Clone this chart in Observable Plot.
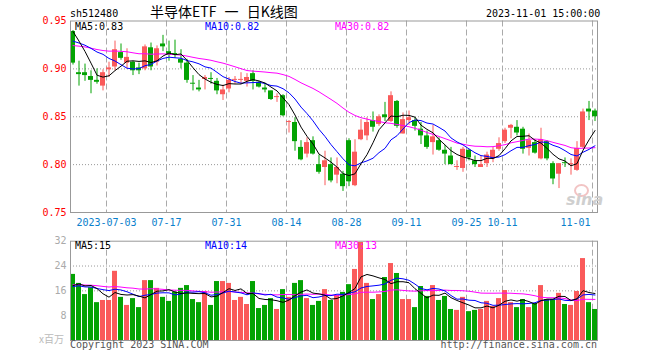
<!DOCTYPE html>
<html><head><meta charset="utf-8">
<script src="https://cdn.jsdelivr.net/npm/d3@7"></script>
<script src="https://cdn.jsdelivr.net/npm/@observablehq/plot@0.6"></script>
<style>
body{margin:0;background:#fff}
#wrap{position:relative;width:660px;height:360px;overflow:hidden;font-family:"DejaVu Sans Mono",monospace;font-size:10px;color:#000}
.t{position:absolute;white-space:pre;line-height:10px}
.cjk{font-family:"Noto Sans CJK SC",sans-serif}
#price,#vol{position:absolute;left:0}
#price{top:0}
#vol{top:232px}
</style></head>
<body>
<div id="wrap">
  <div id="price"></div>
  <div id="vol"></div>
  <div class="t" style="left:70px;top:8.5px">sh512480</div>
  <div class="t cjk" style="left:150px;top:3.5px;font-size:14px;line-height:14px;word-spacing:5px">半导体ETF 一 日K线图</div>
  <div class="t" style="left:486px;top:8.5px">2023-11-01 15:00:00</div>
  <div class="t" style="left:75px;top:21.5px;color:#000">MA5:0.83</div>
  <div class="t" style="left:205px;top:21.5px;color:#00f">MA10:0.82</div>
  <div class="t" style="left:335px;top:21.5px;color:#f0f">MA30:0.82</div>
  <div class="t" style="left:75px;top:241px;color:#000">MA5:15</div>
  <div class="t" style="left:205px;top:241px;color:#00f">MA10:14</div>
  <div class="t" style="left:335px;top:241px;color:#f0f">MA30:13</div>
  <div class="t cjk" style="left:39px;top:334px;color:#bbb">x百万</div>
  <div class="t" style="left:70px;top:339.5px;color:#555">Copyright 2023 SINA.COM</div>
  <div class="t" style="right:63px;top:339.5px;color:#555">http://finance.sina.com.cn</div>
  <div style="position:absolute;left:574px;top:184px;width:11px;height:9px;border:2px solid #f2c4c4;border-radius:50%"></div>
  <div class="t" style="left:566px;top:193px;font:italic bold 16px 'DejaVu Sans',sans-serif;line-height:14px;color:#cfcfcf">sina</div>
</div>
<script>
// trading dates (2023), one per candle
const dates = ("06-21 06-26 06-27 06-28 06-29 06-30 " +
 "07-03 07-04 07-05 07-06 07-07 07-10 07-11 07-12 07-13 07-14 07-17 07-18 07-19 07-20 07-21 07-24 07-25 07-26 07-27 07-28 07-31 " +
 "08-01 08-02 08-03 08-04 08-07 08-08 08-09 08-10 08-11 08-14 08-15 08-16 08-17 08-18 08-21 08-22 08-23 08-24 08-25 08-28 08-29 08-30 08-31 " +
 "09-01 09-04 09-05 09-06 09-07 09-08 09-11 09-12 09-13 09-14 09-15 09-18 09-19 09-20 09-21 09-22 09-25 09-26 09-27 09-28 " +
 "10-09 10-10 10-11 10-12 10-13 10-16 10-17 10-18 10-19 10-20 10-23 10-24 10-25 10-26 10-27 10-30 10-31 11-01").split(" ");

const opens = [.939,.896,.896,.892,.888,.882,.899,.902,.917,.906,.907,.901,.900,.922,.907,.926,.918,.916,.910,.906,
 .885,.880,.889,.890,.887,.873,.879,.888,.888,.887,.895,.886,.880,.877,.870,.872,.844,.844,.818,.811,
 .825,.800,.797,.800,.789,.790,.825,.778,.826,.830,.846,.842,.852,.845,.866,.832,.846,.846,.837,.830,
 .823,.825,.815,.809,.797,.796,.815,.804,.797,.801,.806,.816,.824,.838,.839,.837,.817,.823,.806,.824,
 .801,.790,.802,.800,.794,.818,.858,.856];
const highs = [.940,.908,.905,.898,.900,.899,.907,.929,.926,.921,.908,.906,.925,.927,.924,.935,.929,.930,.920,.910,
 .893,.888,.893,.896,.890,.883,.891,.892,.896,.895,.898,.887,.885,.877,.874,.873,.846,.849,.825,.828,
 .829,.810,.814,.807,.807,.793,.827,.826,.847,.849,.855,.852,.865,.876,.867,.854,.856,.849,.844,.835,
 .841,.828,.820,.818,.804,.818,.816,.809,.809,.813,.818,.828,.838,.842,.846,.839,.832,.826,.838,.825,
 .803,.801,.807,.806,.824,.858,.866,.858];
const lows = [.904,.882,.887,.874,.884,.877,.891,.898,.909,.900,.893,.894,.898,.898,.903,.918,.908,.911,.900,.885,
 .877,.876,.878,.884,.873,.867,.875,.884,.884,.881,.878,.880,.875,.867,.865,.850,.833,.814,.804,.807,
 .810,.790,.778,.781,.780,.772,.777,.777,.825,.825,.834,.840,.845,.844,.838,.832,.841,.835,.821,.816,
 .810,.814,.800,.800,.794,.792,.804,.797,.797,.797,.802,.814,.822,.827,.830,.811,.809,.811,.805,.804,
 .779,.775,.797,.789,.793,.817,.846,.845];
const closes = [.906,.894,.893,.888,.886,.896,.901,.920,.911,.912,.898,.898,.923,.902,.921,.923,.914,.914,.906,.888,
 .884,.878,.891,.889,.877,.878,.888,.889,.889,.891,.887,.881,.878,.868,.871,.851,.845,.824,.805,.823,
 .811,.792,.804,.783,.797,.777,.782,.813,.836,.844,.839,.850,.849,.872,.840,.847,.849,.840,.830,.818,
 .829,.815,.811,.800,.798,.816,.807,.800,.800,.810,.815,.822,.836,.841,.833,.816,.825,.812,.826,.806,
 .785,.801,.801,.801,.817,.855,.855,.850];
// volume, millions of shares
const vols = [21.3,18.4,14.8,17.0,12.2,12.9,12.9,22.3,13.9,11.3,13.5,10.6,19.3,19.3,16.8,13.9,12.6,15.6,16.8,17.7,
 13.2,12.2,15.8,11.3,19.0,19.0,18.4,12.9,13.9,11.6,19.0,10.3,11.3,13.5,10.0,16.4,13.9,18.4,19.3,13.5,
 11.3,12.6,16.4,12.9,14.5,15.5,18.0,22.9,31.6,18.4,13.2,14.8,20.3,24.8,21.6,13.2,13.2,10.6,17.4,14.2,
 17.7,12.9,14.2,10.0,9.7,13.9,9.3,9.7,10.0,12.6,11.0,13.5,16.1,12.2,10.6,13.2,10.6,11.9,17.7,13.2,
 13.2,15.2,11.6,11.3,15.8,26.4,12.2,10.0];
// sessions before the visible window (only feed the moving averages at the left edge)
const prevCloses = [.912,.918,.925,.930,.927,.921,.916,.920,.926,.931,.928,.922,.917,.914,.919,.924,.927,.923,.918,.922,
 .914,.916,.921,.924,.920,.944,.947,.949,.949];
const prevVols = [17.5,19.2,18.0,16.8,20.1,18.6,17.3,19.5,18.2,17.0,18.8,19.9,16.5,17.8,18.4,19.0,17.2,18.9,17.6,18.7,
 16.2,18.3,17.4,16.9,16.7,15.8,17.9,16.4,17.1];

const tickDates = ["07-03","07-17","07-31","08-14","08-28","09-11","09-25","10-11","11-01"];
const tickLabels = ["2023-07-03","07-17","07-31","08-14","08-28","09-11","09-25","10-11","11-01"];
const priceTicks = [0.75,0.80,0.85,0.90,0.95];
const priceGrid = [0.80,0.85,0.90];
const volTicks = [8,16,24,32];

const RED = "#fa5a5a", GREEN = "#03a303";
const n = dates.length;
function mas(prev, cur, w) {
  const all = prev.concat(cur), k = prev.length;
  return cur.map((_, i) => d3.mean(all.slice(k + i - w + 1, k + i + 1)));
}
const cM5 = mas(prevCloses, closes, 5), cM10 = mas(prevCloses, closes, 10), cM30 = mas(prevCloses, closes, 30);
const vM5 = mas(prevVols, vols, 5), vM10 = mas(prevVols, vols, 10), vM30 = mas(prevVols, vols, 30);
const data = dates.map((d, i) => ({
  i, date: d, open: opens[i], high: highs[i], low: lows[i], close: closes[i], vol: vols[i],
  color: closes[i] >= opens[i] ? RED : GREEN,
  m5: cM5[i], m10: cM10[i], m30: cM30[i], v5: vM5[i], v10: vM10[i], v30: vM30[i]
}));
const ticks = tickDates.map((d, k) => ({i: dates.indexOf(d), label: tickLabels[k]}));
const H = 5/12;
const X = {type: "linear", domain: [-H, n - 1 + H], axis: null};
const style = {fontFamily: "DejaVu Sans Mono", fontSize: "10px", background: "transparent", overflow: "visible"};

const price = Plot.plot({
  width: 660, height: 232, marginLeft: 70, marginRight: 63, marginTop: 20.5, marginBottom: 20,
  x: X, y: {domain: [0.75, 0.95], axis: null}, style,
  marks: [
    Plot.ruleY(priceGrid, {stroke: "#999", strokeDasharray: "1,2"}),
    Plot.ruleX(ticks, {x: d => d.i - H, stroke: "#aaa", strokeDasharray: "6,3"}),
    Plot.ruleX(data, {x: "i", y1: "low", y2: "high", stroke: "color"}),
    Plot.rect(data, {x1: d => d.i - H, x2: d => d.i + H, y1: "open", y2: "close", fill: "color"}),
    Plot.line(data, {x: "i", y: "m30", stroke: "#f0f", strokeWidth: 1}),
    Plot.line(data, {x: "i", y: "m10", stroke: "#00f", strokeWidth: 1}),
    Plot.line(data, {x: "i", y: "m5", stroke: "#000", strokeWidth: 1}),
    Plot.frame({stroke: "#999"}),
    Plot.text(priceTicks, {x: -H, y: d => d, text: d => d.toFixed(2), textAnchor: "end", dx: -4, fill: "#f00"}),
    Plot.text(ticks.slice(0, -1), {x: d => d.i - H, y: 0.75, dy: 10, text: "label", fill: "#0a80cc"}),
    Plot.text(ticks.slice(-1), {x: d => d.i - H, y: 0.75, dy: 10, dx: -2, text: "label", textAnchor: "end", fill: "#0a80cc"})
  ]
});
document.getElementById("price").append(price);

const vol = Plot.plot({
  width: 660, height: 128, marginLeft: 70, marginRight: 63, marginTop: 8.7, marginBottom: 20,
  x: X, y: {domain: [0, 32], axis: null}, style,
  marks: [
    Plot.ruleY([8, 16, 24], {stroke: "#999", strokeDasharray: "1,2"}),
    Plot.ruleX(ticks, {x: d => d.i - H, stroke: "#aaa", strokeDasharray: "6,3"}),
    Plot.rect(data, {x1: d => d.i - H, x2: d => d.i + H, y1: 0, y2: "vol", fill: "color"}),
    Plot.line(data, {x: "i", y: "v30", stroke: "#f0f", strokeWidth: 1}),
    Plot.line(data, {x: "i", y: "v10", stroke: "#00f", strokeWidth: 1}),
    Plot.line(data, {x: "i", y: "v5", stroke: "#000", strokeWidth: 1}),
    Plot.frame({stroke: "#999"}),
    Plot.text(volTicks, {x: -H, y: d => d, text: d => String(d), textAnchor: "end", dx: -4, fill: "#aaa"})
  ]
});
document.getElementById("vol").append(vol);
</script>
</body></html>
